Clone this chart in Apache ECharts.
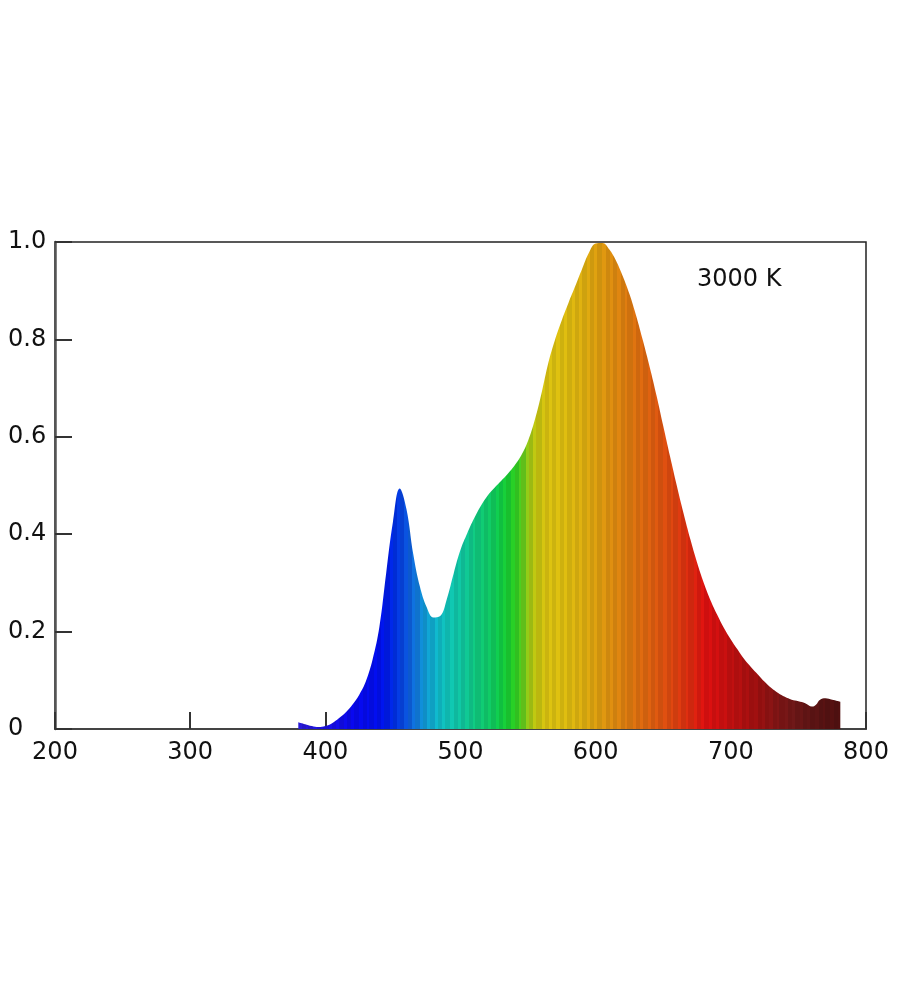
<!DOCTYPE html>
<html>
<head>
<meta charset="utf-8">
<script src="https://cdn.jsdelivr.net/npm/echarts@6/dist/echarts.min.js"></script>
<style>
html,body{margin:0;padding:0;background:#fff;}
#chart{width:900px;height:1000px;}
</style>
</head>
<body>
<div id="chart"></div>
<script>
// Wavelength (nm) and relative intensity of the 3000 K spectrum
const wavelengths = [380,385,390,395,400,405,410,415,420,425,430,435,440,445,450,455,460,465,470,475,480,485,490,495,500,505,510,515,520,525,530,535,540,545,550,555,560,565,570,575,580,585,590,595,600,605,610,615,620,625,630,635,640,645,650,655,660,665,670,675,680,685,690,695,700,705,710,715,720,725,730,735,740,745,750,755,760,763,766,770,775,781];
const intensity   = [0.014,0.010,0.006,0.004,0.006,0.012,0.022,0.034,0.050,0.070,0.098,0.143,0.21,0.32,0.425,0.494,0.452,0.36,0.292,0.250,0.229,0.232,0.268,0.320,0.368,0.402,0.432,0.458,0.479,0.495,0.509,0.524,0.541,0.562,0.592,0.635,0.69,0.752,0.80,0.84,0.876,0.91,0.945,0.978,0.997,0.998,0.985,0.962,0.93,0.893,0.848,0.797,0.743,0.685,0.622,0.56,0.50,0.443,0.39,0.342,0.30,0.264,0.234,0.207,0.184,0.163,0.143,0.127,0.112,0.097,0.084,0.074,0.066,0.060,0.057,0.053,0.046,0.050,0.060,0.063,0.060,0.056];

// Spectrum colour by wavelength
const colorWavelengths = [380,400,420,440,450,458,465,472,480,490,500,510,520,528,536,542,548,555,562,575,590,600,612,625,640,655,668,680,692,705,718,730,745,760,781];
const colorValues = ['#2a1ad8','#1a10e8','#0808f0','#0010f0','#0030e8','#0a50e0','#1078e0','#1098d8','#10b8d0','#10c8b8','#10c8a0','#10cc80','#10cc68','#10d048','#20d028','#40d020','#90cc18','#c8c810','#dcc410','#e0c010','#e0b010','#e0a010','#e08c10','#e07810','#e06010','#e04810','#e02c10','#e01010','#d01010','#b81010','#a01010','#881414','#701818','#5e1414','#501010'];

const xTicks = [200,300,400,500,600,700,800];
const yTicks = [0,0.2,0.4,0.6,0.8,1.0];
const annotation = '3000 K';

const wMin = wavelengths[0], wMax = wavelengths[wavelengths.length-1];
function hexToRgb(h){return [parseInt(h.substr(1,2),16),parseInt(h.substr(3,2),16),parseInt(h.substr(5,2),16)];}
function colorAt(w){
  for(let i=0;i<colorWavelengths.length-1;i++){
    if(w<=colorWavelengths[i+1]){
      const t=(w-colorWavelengths[i])/(colorWavelengths[i+1]-colorWavelengths[i]);
      const a=hexToRgb(colorValues[i]), b=hexToRgb(colorValues[i+1]);
      return a.map((v,k)=>v+(b[k]-v)*t);
    }
  }
  return hexToRgb(colorValues[colorValues.length-1]);
}
// fine vertical banding like the printed spectrum
const stops=[];
const bandWidths=[2.5,3,2,3.5,2.5,3,2,4];
let w=wMin, k=0;
while(w<wMax){
  const f = (k%2===0)?1.0:0.92;
  const c = colorAt(w).map(v=>Math.round(Math.min(255,v*f)));
  const o1=(w-wMin)/(wMax-wMin);
  const w2=Math.min(wMax,w+bandWidths[k%bandWidths.length]);
  const o2=(w2-wMin)/(wMax-wMin);
  const col='rgb('+c.join(',')+')';
  stops.push({offset:o1,color:col});
  stops.push({offset:o2,color:col});
  w=w2;k++;
}

const chart = echarts.init(document.getElementById('chart'), null, {renderer:'canvas'});
const font = '"DejaVu Sans", sans-serif';
chart.setOption({
  animation:false,
  backgroundColor:'#fff',
  grid:{left:55,right:34,top:242,bottom:271,show:true,borderColor:'#222',borderWidth:1.5,backgroundColor:'transparent'},
  xAxis:{
    type:'value',min:xTicks[0],max:xTicks[xTicks.length-1],interval:100,
    axisLine:{show:true,lineStyle:{color:'#444',width:2}},
    axisTick:{show:true,inside:true,length:17,lineStyle:{color:'#333',width:2}},
    axisLabel:{color:'#111',fontSize:24,fontFamily:font,margin:12},
    splitLine:{show:false}
  },
  yAxis:{
    type:'value',min:0,max:1,interval:0.2,
    axisLine:{show:true,lineStyle:{color:'#555',width:2.5}},
    axisTick:{show:true,inside:true,length:17,lineStyle:{color:'#333',width:2}},
    axisLabel:{color:'#111',fontSize:24,fontFamily:font,margin:47,align:'left',
      formatter:v=> Math.abs(v)<1e-9 ? '0' : v.toFixed(1)},
    splitLine:{show:false}
  },
  series:[{
    type:'line',
    data:wavelengths.map((w,i)=>[w,intensity[i]]),
    smooth:0.4,
    showSymbol:false,
    lineStyle:{width:0},
    areaStyle:{opacity:1,color:new echarts.graphic.LinearGradient(0,0,1,0,stops)},
    z:1
  }],
  graphic:[{type:'text',left:697,top:268,style:{text:annotation,fontSize:24,fontFamily:font,fill:'#111'}}]
});
</script>
</body>
</html>
